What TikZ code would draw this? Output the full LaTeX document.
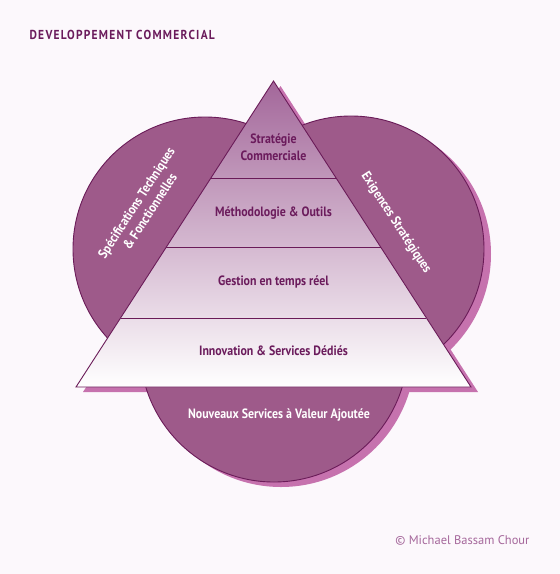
\documentclass[tikz,border=0pt]{standalone}
\usepackage{fontspec}
\setmainfont[FakeStretch=0.88]{PT Sans}
\newfontfamily\copyfont{PT Sans}
\usetikzlibrary{calc}
\definecolor{bgc}{HTML}{FCF8FC}
\definecolor{circfill}{HTML}{9E5A8A}
\definecolor{shadowc}{HTML}{C672AE}
\definecolor{edgec}{HTML}{6A1B58}
\definecolor{darktext}{HTML}{6B1B5C}
\definecolor{copyc}{HTML}{A5679B}
\definecolor{tritop}{HTML}{A3679A}
\tikzset{
  circ/.style={fill=circfill, draw=edgec, line width=0.9pt},
  shad/.style={fill=shadowc},
  band/.style={draw=edgec, line width=0.9pt},
  tritext/.style={text=darktext, font=\bfseries\fontsize{13.5}{17.5}\selectfont, align=center},
  circtext/.style={text=white, font=\bfseries\fontsize{13.5}{16}\selectfont, align=center},
}
\begin{document}
\begin{tikzpicture}[x=1pt,y=-1pt]
\fill[bgc] (0,0) rectangle (560,574);
\useasboundingbox (0,0) rectangle (560,574);
% key coordinates
\coordinate (A) at (273.5,81);
\coordinate (L) at (76,387);
\coordinate (R) at (471,387);
\coordinate (CL) at (205,249);
\coordinate (CR) at (351,249);
\coordinate (CB) at (274,348);
% triangle shadow
\fill[shad] ($(A)+(7,5)$) -- ($(L)+(7,5)$) -- ($(R)+(7,5)$) -- cycle;
% circle shadows
\fill[shad] ($(CR)+(7,5)$) circle (133);
\fill[shad] ($(CB)+(7,5)$) circle (134);
% circles
\draw[circ] (CL) circle (132);
\draw[circ] (CR) circle (133);
\draw[circ] (CB) circle (134);
% triangle
\shade[top color=tritop, bottom color=white] (A) -- (L) -- (R) -- cycle;
\draw[band] ($(A)!0.317!(L)$) -- ($(A)!0.317!(R)$);
\draw[band] ($(A)!0.5425!(L)$) -- ($(A)!0.5425!(R)$);
\draw[band] ($(A)!0.7745!(L)$) -- ($(A)!0.7745!(R)$);
\draw[band, line join=miter] (A) -- (L) -- (R) -- cycle;
% texts
\node[tritext] (t1) at (273.5,147) {Stratégie\\Commerciale};
\node[tritext] (t2) at (273.5,213) {Méthodologie \& Outils};
\node[tritext] (t3) at (273.5,282) {Gestion en temps réel};
\node[tritext] (t4) at (273.5,351) {Innovation \& Services Dédiés};
\node[circtext] (t5) at (279,415) {Nouveaux Services à Valeur Ajoutée};
\node[circtext, rotate=57] (t6) at (143,207) {Spécifications Techniques\\\& Fonctionnelles};
\node[circtext, rotate=-57] (t7) at (396,223) {Exigences Stratégiques};
\node[text=darktext, font=\bfseries\fontsize{13}{15}\selectfont\addfontfeatures{LetterSpace=10}, anchor=west] (title) at (26,35) {DEVELOPPEMENT COMMERCIAL};
\node[text=copyc, font=\copyfont\fontsize{12.5}{14}\selectfont, anchor=east] (copy) at (533,540) {© Michael Bassam Chour};
\end{tikzpicture}
\end{document}
